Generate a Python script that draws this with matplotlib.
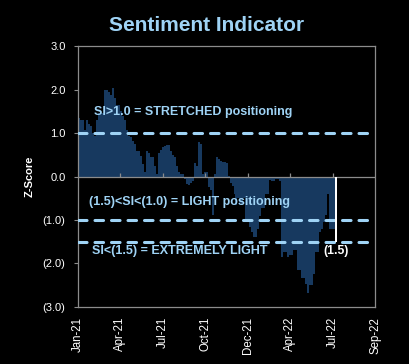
import numpy as np
import matplotlib
matplotlib.use("Agg")
import matplotlib.pyplot as plt

plt.rcParams['font.family'] = ['Liberation Sans', 'DejaVu Sans']

# Sentiment indicator z-scores (approx. one value per ~3 trading days)
values = [
    1.35, 1.30, 1.29, 1.08, 1.30, 1.20, 1.15, 1.00, 0.93, 1.30,
    1.45, 1.46, 1.46, 1.98, 2.00, 1.95, 1.87, 2.03, 1.80, 1.65,
    1.65, 1.50, 1.38, 1.30, 1.08, 0.93, 0.90, 0.82, 0.74, 0.59,
    0.59, 0.47, 0.28, 0.10, 0.59, 0.55, 0.45, 0.45, 0.25, 0.05,
    0.55, 0.60, 0.67, 0.70, 0.73, 0.73, 0.59, 0.50, 0.45, 0.25,
    0.10, 0.05, 0.05, -0.05, -0.18, -0.20, -0.15, -0.10, 0.30, 0.25,
    0.79, 0.75, 0.05, 0.10, 0.10, -0.25, -0.30, -0.89, 0.05, 0.44,
    0.40, 0.36, 0.34, 0.34, 0.30, 0.02, -0.15, -0.21, -0.40, -0.66,
    -0.50, -0.60, -0.66, -0.50, -0.97, -1.00, -1.15, -1.27, -1.38, -1.38,
    -1.20, -0.90, -0.72, -0.72, -0.40, -0.40, -0.09, -0.10, -0.10, -0.05,
    -0.05, -0.10, -1.84, -1.74, -1.74, -1.84, -1.80, -1.80, -1.70, -1.70,
    -2.14, -2.14, -2.33, -2.33, -2.48, -2.67, -2.50, -2.50, -2.25, -1.74,
    -1.74, -1.27, -1.20, -1.04, -0.89, -0.40, -1.20, -1.20, -1.20,
]
latest_value = -1.5
latest_label = "(1.5)"

tick_labels = ["Jan-21", "Apr-21", "Jul-21", "Oct-21", "Dec-21", "Apr-22", "Jul-22", "Sep-22"]
yticks = [3.0, 2.0, 1.0, 0.0, -1.0, -2.0, -3.0]
ytick_labels = ["3.0", "2.0", "1.0", "0.0", "(1.0)", "(2.0)", "(3.0)"]
thresholds = [1.0, -1.0, -1.5]
x_span = 149  # axis length in data slots

bar_color = "#17395f"
light_blue = "#9fd3f5"
grey = "#8c8c8c"

fig = plt.figure(figsize=(4.09, 3.64), dpi=100, facecolor="black")
ax = fig.add_axes([0.1907, 0.1566, 0.917 - 0.1907, 0.8736 - 0.1566])
ax.set_facecolor("black")

x = np.arange(len(values))
ax.bar(x, values, width=1.0, align="edge", color=bar_color, linewidth=0, zorder=2)
ax.bar([len(values)], [latest_value], width=1.1, align="edge", color="white",
       linewidth=0, zorder=4)

ax.set_xlim(0, x_span)
ax.set_ylim(-3, 3)

ax.axhline(0, color=grey, lw=0.9, zorder=3)
xt = np.linspace(0, x_span, len(tick_labels))
ax.vlines(xt[1:-1], 0, 0.07, color=grey, lw=0.9, zorder=3)

for t in thresholds:
    ax.axhline(t, color=light_blue, lw=2.2, linestyle=(0, (2.8, 2.6)),
               dash_capstyle="round", zorder=3)

for s in ax.spines.values():
    s.set_color(grey)
    s.set_linewidth(0.9)

ax.set_yticks(yticks)
ax.set_yticklabels(ytick_labels)
ax.set_xticks(xt)
ax.set_xticklabels(tick_labels, rotation=90)
ax.tick_params(axis="y", colors="white", labelsize=8, length=3, pad=6, color=grey)
ax.tick_params(axis="x", colors="white", labelsize=8.3, length=0, pad=7)

ax.set_ylabel("Z-Score", color="white", fontsize=8, fontweight="bold", labelpad=6)

fig.text(0.506, 0.931, "Sentiment Indicator", color=light_blue, fontsize=15,
         fontweight="bold", ha="center", va="center")

ax.text(8, 1.49, "SI>1.0 = STRETCHED positioning", color=light_blue, fontsize=9,
        fontweight="bold", ha="left", va="center", zorder=5)
ax.text(5.5, -0.58, "(1.5)<SI<(1.0) = LIGHT positioning", color=light_blue,
        fontsize=9, fontweight="bold", ha="left", va="center", zorder=5)
ax.text(7, -1.72, "SI<(1.5) = EXTREMELY LIGHT", color=light_blue, fontsize=9,
        fontweight="bold", ha="left", va="center", zorder=5)
ax.text(len(values) + 0.5, -1.72, latest_label, color="white", fontsize=8.8,
        fontweight="bold", ha="center", va="center", zorder=5)

fig.savefig("out.png", dpi=100, facecolor="black")
